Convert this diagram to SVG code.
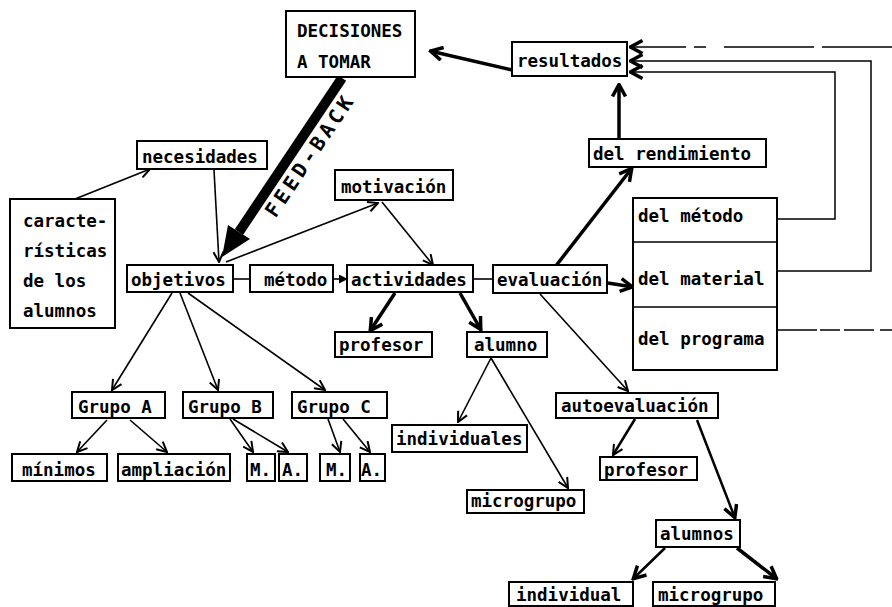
<svg xmlns="http://www.w3.org/2000/svg" width="892" height="607" viewBox="0 0 892 607">
<defs>
<style>
.box{fill:#fff;stroke:#000;stroke-width:2}
text{font-family:"DejaVu Sans Mono","Liberation Mono",monospace;font-size:17.5px;font-weight:bold;fill:#000}
.t{stroke:#000;stroke-width:1.6;fill:none}
.k{stroke:#000;stroke-width:3.5;fill:none}
.m{stroke:#000;stroke-width:2.5;fill:none}
.l{stroke:#000;stroke-width:1.5;fill:none}
</style>
<marker id="a" viewBox="0 0 12 12" refX="11" refY="6" markerWidth="12" markerHeight="12" markerUnits="userSpaceOnUse" orient="auto"><path d="M1,1 L11,6 L1,11" fill="none" stroke="#000" stroke-width="2"/></marker>
<marker id="b" viewBox="0 0 16 16" refX="14.5" refY="8" markerWidth="16" markerHeight="16" markerUnits="userSpaceOnUse" orient="auto"><path d="M2,1.5 L14,8 L2,14.5" fill="none" stroke="#000" stroke-width="3.5"/></marker>
<marker id="f" viewBox="0 0 10 10" refX="9" refY="5" markerWidth="9" markerHeight="9" markerUnits="userSpaceOnUse" orient="auto"><path d="M0,0 L10,5 L0,10 Z" fill="#000"/></marker>
</defs>

<g id="connectors">
<line class="t" x1="75" y1="199" x2="150" y2="169" marker-end="url(#a)"/>
<line class="t" x1="214" y1="170" x2="219" y2="262" marker-end="url(#a)"/>
<line class="t" x1="226" y1="262" x2="378" y2="203" marker-end="url(#a)"/>
<line class="t" x1="382" y1="202" x2="433" y2="265" marker-end="url(#a)"/>
<line class="t" x1="172" y1="293" x2="112" y2="390" marker-end="url(#a)"/>
<line class="t" x1="180" y1="293" x2="218" y2="390" marker-end="url(#a)"/>
<line class="t" x1="188" y1="293" x2="325" y2="390" marker-end="url(#a)"/>
<line class="t" x1="107" y1="420" x2="77" y2="452" marker-end="url(#a)"/>
<line class="t" x1="130" y1="420" x2="167" y2="452" marker-end="url(#a)"/>
<line class="t" x1="230" y1="419" x2="253" y2="452" marker-end="url(#a)"/>
<line class="t" x1="233" y1="419" x2="288" y2="452" marker-end="url(#a)"/>
<line class="t" x1="328" y1="419" x2="340" y2="452" marker-end="url(#a)"/>
<line class="t" x1="343" y1="419" x2="370" y2="452" marker-end="url(#a)"/>
<line class="t" x1="491" y1="358" x2="458" y2="422" marker-end="url(#a)"/>
<line class="t" x1="491" y1="358" x2="568" y2="488" marker-end="url(#a)"/>
<line class="t" x1="540" y1="294" x2="628" y2="391" marker-end="url(#a)"/>
<line class="m" x1="635" y1="419" x2="613" y2="455" marker-end="url(#a)"/>
<line class="k" x1="512" y1="70" x2="430" y2="51" marker-end="url(#b)"/>
<line class="k" x1="619" y1="139" x2="619" y2="84" marker-end="url(#b)"/>
<line class="k" x1="555" y1="267" x2="632" y2="168" marker-end="url(#b)"/>
<line class="k" x1="395" y1="293" x2="370" y2="331" marker-end="url(#b)"/>
<line class="k" x1="460" y1="293" x2="481" y2="330" marker-end="url(#b)"/>
<line class="m" x1="697" y1="420" x2="735" y2="518" marker-end="url(#b)"/>
<line class="m" x1="665" y1="548" x2="633" y2="579" marker-end="url(#b)"/>
<line class="k" x1="737" y1="548" x2="777" y2="579" marker-end="url(#b)"/>
<line class="k" x1="608" y1="283" x2="633" y2="287" marker-end="url(#b)"/>
<line class="t" x1="333" y1="279" x2="347" y2="279" marker-end="url(#f)"/>
<line class="t" x1="233" y1="279" x2="250" y2="279"/>
<line class="t" x1="473" y1="279" x2="493" y2="279"/>
<polyline class="l" points="892,47 630,47" stroke-dasharray="70 8 90 18 12 8 70 6" marker-end="url(#b)"/>
<polyline class="l" points="777,271 871,271 871,61 630,61" marker-end="url(#b)"/>
<polyline class="l" points="777,219 835,219 835,72 630,72" marker-end="url(#b)"/>
<line class="l" x1="777" y1="330" x2="892" y2="330" stroke-dasharray="40 3 20 4 30 6"/>
<line x1="342" y1="78" x2="239" y2="232" stroke="#000" stroke-width="10"/>
<polygon points="222,257 250,239 228,225" fill="#000"/>
<text transform="translate(310,155) rotate(-56)" x="0" y="7" text-anchor="middle" style="font-size:20px;letter-spacing:4px">FEED-BACK</text>
</g>

<g id="decisiones"><rect class="box" x="286" y="11" width="129" height="66"/><text x="297" y="37">DECISIONES</text><text x="297" y="68">A TOMAR</text></g>
<g id="resultados"><rect class="box" x="512" y="42" width="115" height="34"/><text x="517" y="67">resultados</text></g>
<g id="necesidades"><rect class="box" x="137" y="141" width="130" height="28"/><text x="142" y="163">necesidades</text></g>
<g id="caracteristicas"><rect class="box" x="10" y="199" width="105" height="129"/><text x="23" y="227">caracte-</text><text x="23" y="257">rísticas</text><text x="23" y="287">de los</text><text x="23" y="317">alumnos</text></g>
<g id="motivacion"><rect class="box" x="335" y="170" width="118" height="30"/><text x="341" y="193">motivación</text></g>
<g id="objetivos"><rect class="box" x="127" y="265" width="106" height="27"/><text x="131" y="286">objetivos</text></g>
<g id="metodo"><rect class="box" x="250" y="265" width="83" height="27"/><text x="264" y="286">método</text></g>
<g id="actividades"><rect class="box" x="347" y="265" width="126" height="27"/><text x="351" y="286">actividades</text></g>
<g id="evaluacion"><rect class="box" x="493" y="265" width="114" height="28"/><text x="497" y="286">evaluación</text></g>
<g id="rendimiento"><rect class="box" x="589" y="139" width="177" height="28"/><text x="593" y="160">del rendimiento</text></g>
<g id="tabla"><rect class="box" x="633" y="198" width="144" height="172"/><line class="l" x1="633" y1="242" x2="777" y2="242"/><line class="l" x1="633" y1="307" x2="777" y2="307"/><text x="638" y="222">del método</text><text x="638" y="285">del material</text><text x="638" y="345">del programa</text></g>
<g id="profesor1"><rect class="box" x="335" y="332" width="97" height="25"/><text x="339" y="351">profesor</text></g>
<g id="alumno"><rect class="box" x="467" y="332" width="80" height="25"/><text x="474" y="351">alumno</text></g>
<g id="grupoA"><rect class="box" x="72" y="392" width="93" height="26"/><text x="78" y="413">Grupo A</text></g>
<g id="grupoB"><rect class="box" x="183" y="392" width="90" height="26"/><text x="188" y="413">Grupo B</text></g>
<g id="grupoC"><rect class="box" x="292" y="392" width="95" height="26"/><text x="297" y="413">Grupo C</text></g>
<g id="minimos"><rect class="box" x="12" y="454" width="95" height="27"/><text x="22" y="476">mínimos</text></g>
<g id="ampliacion"><rect class="box" x="118" y="454" width="112" height="27"/><text x="121" y="476">ampliación</text></g>
<g id="mB"><rect class="box" x="247" y="454" width="28" height="27"/><text x="250" y="476">M.</text></g>
<g id="aB"><rect class="box" x="279" y="454" width="28" height="27"/><text x="282" y="476">A.</text></g>
<g id="mC"><rect class="box" x="320" y="454" width="30" height="27"/><text x="326" y="476">M.</text></g>
<g id="aC"><rect class="box" x="360" y="454" width="25" height="27"/><text x="361" y="476">A.</text></g>
<g id="individuales"><rect class="box" x="392" y="425" width="135" height="27"/><text x="396" y="445">individuales</text></g>
<g id="microgrupo1"><rect class="box" x="467" y="490" width="117" height="23"/><text x="471" y="507">microgrupo</text></g>
<g id="autoevaluacion"><rect class="box" x="556" y="393" width="162" height="25"/><text x="561" y="412">autoevaluación</text></g>
<g id="profesor2"><rect class="box" x="600" y="457" width="97" height="23"/><text x="604" y="476">profesor</text></g>
<g id="alumnos"><rect class="box" x="656" y="520" width="84" height="27"/><text x="660" y="540">alumnos</text></g>
<g id="individual"><rect class="box" x="509" y="582" width="124" height="24"/><text x="516" y="601">individual</text></g>
<g id="microgrupo2"><rect class="box" x="653" y="582" width="122" height="24"/><text x="658" y="601">microgrupo</text></g>
</svg>
